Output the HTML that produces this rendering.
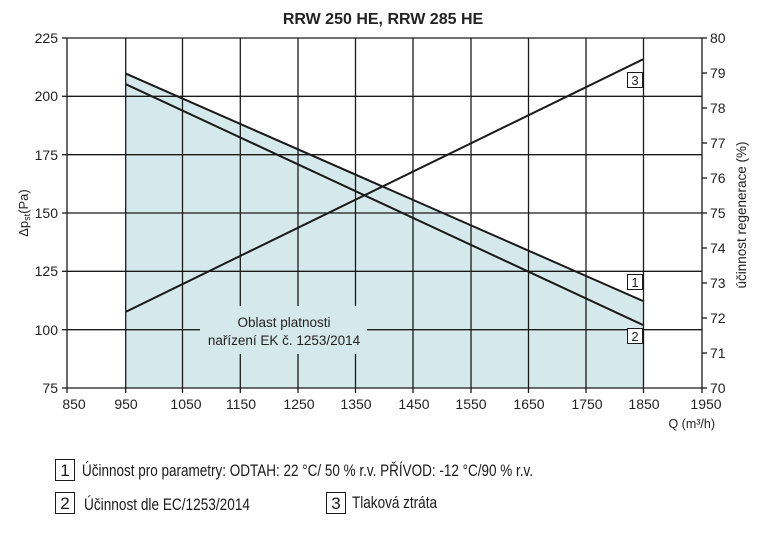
<!DOCTYPE html>
<html><head><meta charset="utf-8"><style>
body{margin:0;background:#fff;}
svg{display:block;font-family:"Liberation Sans",Arial,sans-serif;}
</style></head><body>
<svg width="766" height="537" viewBox="0 0 766 537" xmlns="http://www.w3.org/2000/svg">
<text x="383" y="24" text-anchor="middle" font-size="16" font-weight="bold" fill="#222">RRW 250 HE, RRW 285 HE</text>
<polygon points="126,73.7 643,301 643,388 126,388" fill="#d5e8eb"/>
<g stroke="#1a1a1a" stroke-width="1.3">
<line x1="67" y1="38" x2="702" y2="38"/>
<line x1="67" y1="96.3" x2="702" y2="96.3"/>
<line x1="67" y1="154.7" x2="702" y2="154.7"/>
<line x1="67" y1="213" x2="702" y2="213"/>
<line x1="67" y1="271.3" x2="702" y2="271.3"/>
<line x1="67" y1="329.7" x2="702" y2="329.7"/>
<line x1="67" y1="388" x2="702" y2="388"/>
<line x1="67" y1="38" x2="67" y2="393"/>
<line x1="125.7" y1="38" x2="125.7" y2="393"/>
<line x1="182.5" y1="38" x2="182.5" y2="393"/>
<line x1="240.3" y1="38" x2="240.3" y2="393"/>
<line x1="298" y1="38" x2="298" y2="393"/>
<line x1="355.5" y1="38" x2="355.5" y2="393"/>
<line x1="413" y1="38" x2="413" y2="393"/>
<line x1="471" y1="38" x2="471" y2="393"/>
<line x1="528.5" y1="38" x2="528.5" y2="393"/>
<line x1="586" y1="38" x2="586" y2="393"/>
<line x1="643.5" y1="38" x2="643.5" y2="393"/>
<line x1="702" y1="38" x2="702" y2="393"/>
<line x1="62" y1="38" x2="67" y2="38"/><line x1="62" y1="96.3" x2="67" y2="96.3"/><line x1="62" y1="154.7" x2="67" y2="154.7"/><line x1="62" y1="213" x2="67" y2="213"/><line x1="62" y1="271.3" x2="67" y2="271.3"/><line x1="62" y1="329.7" x2="67" y2="329.7"/><line x1="62" y1="388" x2="67" y2="388"/>
<line x1="702" y1="73" x2="707" y2="73"/><line x1="702" y1="108" x2="707" y2="108"/><line x1="702" y1="143" x2="707" y2="143"/><line x1="702" y1="178" x2="707" y2="178"/><line x1="702" y1="213" x2="707" y2="213"/><line x1="702" y1="248" x2="707" y2="248"/><line x1="702" y1="283" x2="707" y2="283"/><line x1="702" y1="318" x2="707" y2="318"/><line x1="702" y1="353" x2="707" y2="353"/><line x1="702" y1="388" x2="707" y2="388"/><line x1="702" y1="38" x2="707" y2="38"/>
</g>
<rect x="200" y="306" width="167" height="48" fill="#d5e8eb"/>
<text x="284" y="327" text-anchor="middle" font-size="13.5" fill="#222">Oblast platnosti</text>
<text x="284" y="345" text-anchor="middle" font-size="13.5" fill="#222">nařízení EK č. 1253/2014</text>
<g stroke="#1a1a1a" stroke-width="2" fill="none">
<line x1="126" y1="73.7" x2="643" y2="301"/>
<line x1="126" y1="84.3" x2="643" y2="325"/>
<line x1="126" y1="311.7" x2="643" y2="59.3"/>
</g>
<g fill="#fff" stroke="#1a1a1a" stroke-width="1">
<rect x="627.5" y="72.5" width="15" height="15"/>
<rect x="627.5" y="274.5" width="15" height="15"/>
<rect x="627.5" y="328.5" width="15" height="15"/>
</g>
<g font-size="13" fill="#222" text-anchor="middle">
<text x="635" y="85">3</text><text x="635" y="287">1</text><text x="635" y="341">2</text>
</g>
<g font-size="14" fill="#222" text-anchor="end">
<text x="58" y="43">225</text><text x="58" y="101">200</text><text x="58" y="160">175</text><text x="58" y="218">150</text><text x="58" y="276">125</text><text x="58" y="335">100</text><text x="58" y="393">75</text>
</g>
<g font-size="14" fill="#222" text-anchor="start">
<text x="710" y="43">80</text><text x="710" y="78">79</text><text x="710" y="113">78</text><text x="710" y="148">77</text><text x="710" y="183">76</text><text x="710" y="218">75</text><text x="710" y="253">74</text><text x="710" y="288">73</text><text x="710" y="323">72</text><text x="710" y="358">71</text><text x="710" y="393">70</text>
</g>
<g font-size="14" fill="#222" text-anchor="middle">
<text x="74" y="409">850</text><text x="126" y="409">950</text><text x="186" y="409">1050</text><text x="241" y="409">1150</text><text x="299" y="409">1250</text><text x="356" y="409">1350</text><text x="414" y="409">1450</text><text x="471" y="409">1550</text><text x="529" y="409">1650</text><text x="587" y="409">1750</text><text x="644" y="409">1850</text><text x="706" y="409">1950</text>
</g>
<text x="715" y="428" text-anchor="end" font-size="12.5" fill="#222">Q (m³/h)</text>
<text transform="translate(28,213) rotate(-90)" text-anchor="middle" font-size="13" fill="#222">Δp<tspan font-size="9" dy="2">st</tspan><tspan dy="-2">(Pa)</tspan></text>
<text transform="translate(746,215) rotate(-90)" text-anchor="middle" font-size="13.5" fill="#222">účinnost regenerace (%)</text>
<g fill="#fff" stroke="#1a1a1a" stroke-width="1">
<rect x="55.5" y="459.5" width="19" height="21"/>
<rect x="55.5" y="492.5" width="19" height="21"/>
<rect x="326.5" y="492.5" width="19" height="21"/>
</g>
<g font-size="17" fill="#1a1a1a">
<text x="65" y="476" text-anchor="middle">1</text>
<text x="65" y="509" text-anchor="middle">2</text>
<text x="336" y="509" text-anchor="middle">3</text>
<text x="82" y="476" textLength="451" lengthAdjust="spacingAndGlyphs">Účinnost pro parametry: ODTAH: 22 °C/ 50 % r.v. PŘÍVOD: -12 °C/90 % r.v.</text>
<text x="84" y="510" textLength="166" lengthAdjust="spacingAndGlyphs">Účinnost dle EC/1253/2014</text>
<text x="352" y="508" textLength="85" lengthAdjust="spacingAndGlyphs">Tlaková ztráta</text>
</g>
</svg>
</body></html>
